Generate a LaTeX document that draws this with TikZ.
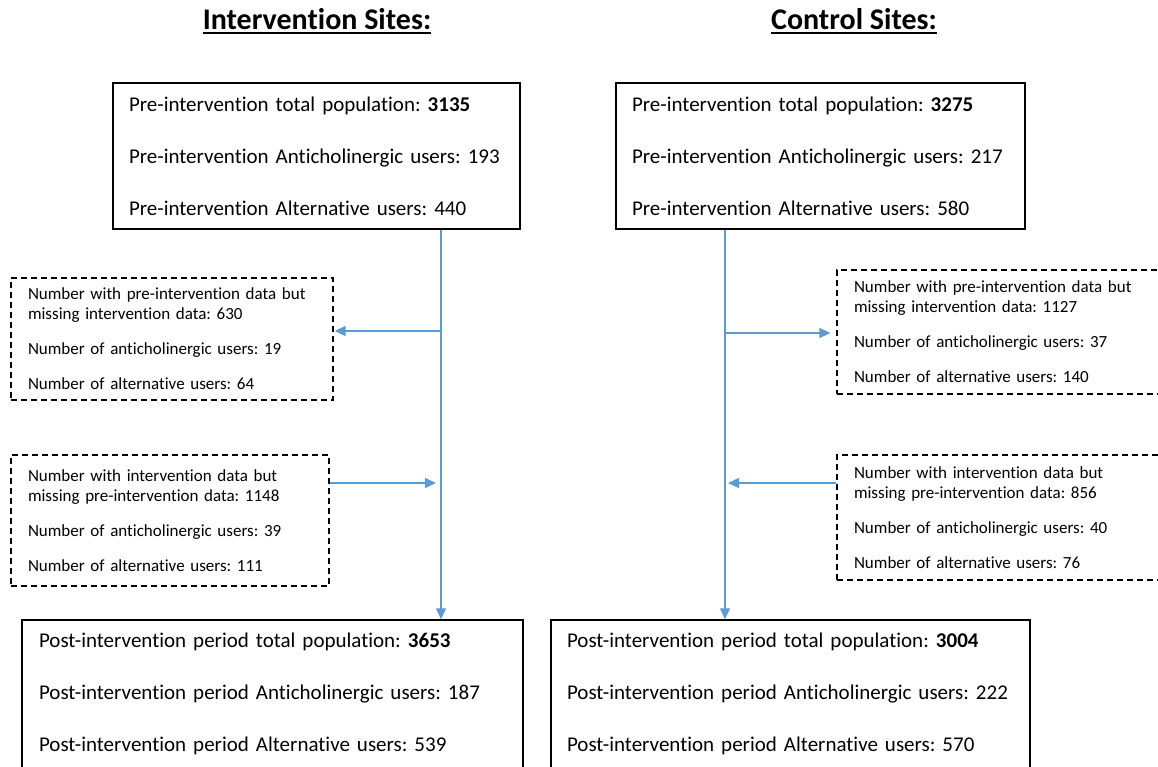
\documentclass[tikz,border=0pt]{standalone}
\usepackage{fontspec}
\setmainfont{Carlito}[Ligatures=NoCommon]
\usetikzlibrary{arrows.meta,positioning,calc}
\definecolor{flowblue}{RGB}{91,155,213}
\frenchspacing

\begin{document}
\begin{tikzpicture}[
    x=1pt, y=-1pt,
    heading/.style={inner sep=0pt, font=\fontsize{30}{36}\selectfont\bfseries},
    countbox/.style={rectangle, draw=black, line width=1.5pt, align=left, inner xsep=16pt, inner ysep=2pt, font=\fontsize{21}{26}\selectfont},
    lossbox/.style={rectangle, draw=black, line width=1.3pt, dash pattern=on 6pt off 4pt, align=left, inner xsep=17pt, inner ysep=2pt, font=\fontsize{17}{20}\selectfont},
    flow/.style={draw=flowblue, line width=1.5pt, -{Triangle[length=11pt,width=10pt]}},
    underbar/.style={line width=2.5pt}
]
\useasboundingbox (0,0) rectangle (1158,766);

% Headings
\node[heading, anchor=base] (headI) at (317,29) {Intervention Sites:};
\node[heading, anchor=base] (headC) at (854,29) {Control Sites:};
\draw[underbar] ([yshift=-4pt]headI.base west) -- ([yshift=-4pt]headI.base east);
\draw[underbar] ([yshift=-4pt]headC.base west) -- ([yshift=-4pt]headC.base east);

% Pre-intervention boxes
\node[countbox, minimum width=407pt, minimum height=146pt, text width=375pt] (preI) at (316.5,156)
  {Pre-intervention total population: \textbf{3135}\\[26pt]
   Pre-intervention Anticholinergic users: 193\\[26pt]
   Pre-intervention Alternative users: 440};
\node[countbox, minimum width=409pt, minimum height=146pt, text width=377pt] (preC) at (820.5,156)
  {Pre-intervention total population: \textbf{3275}\\[26pt]
   Pre-intervention Anticholinergic users: 217\\[26pt]
   Pre-intervention Alternative users: 580};

% Post-intervention boxes
\node[countbox, minimum width=501pt, minimum height=148pt, text width=467pt] (postI) at (272.5,694)
  {Post-intervention period total population: \textbf{3653}\\[26pt]
   Post-intervention period Anticholinergic users: 187\\[26pt]
   Post-intervention period Alternative users: 539};
\node[countbox, minimum width=479pt, minimum height=148pt, text width=447pt] (postC) at (790.5,694)
  {Post-intervention period total population: \textbf{3004}\\[26pt]
   Post-intervention period Anticholinergic users: 222\\[26pt]
   Post-intervention period Alternative users: 570};

% Missing data boxes
\node[lossbox, minimum width=322pt, minimum height=122pt, text width=288pt] (lossI) at (172,339)
  {Number with pre-intervention data but\\
   missing intervention data: 630\\[15pt]
   Number of anticholinergic users: 19\\[15pt]
   Number of alternative users: 64};
\node[lossbox, minimum width=318pt, minimum height=131pt, text width=284pt] (gainI) at (170,520.5)
  {Number with intervention data but\\
   missing pre-intervention data: 1148\\[15pt]
   Number of anticholinergic users: 39\\[15pt]
   Number of alternative users: 111};
\node[lossbox, minimum width=333pt, minimum height=124pt, text width=299pt] (lossC) at (1003.5,332)
  {Number with pre-intervention data but\\
   missing intervention data: 1127\\[15pt]
   Number of anticholinergic users: 37\\[15pt]
   Number of alternative users: 140};
\node[lossbox, minimum width=333pt, minimum height=125pt, text width=299pt] (gainC) at (1003.5,517.5)
  {Number with intervention data but\\
   missing pre-intervention data: 856\\[15pt]
   Number of anticholinergic users: 40\\[15pt]
   Number of alternative users: 76};

% Flow lines
\coordinate (splitI) at (441,0);
\coordinate (splitC) at (725,0);
\draw[flow] (preI.south -| splitI) -- (postI.north -| splitI);
\draw[flow] (preC.south -| splitC) -- (postC.north -| splitC);

\draw[flow, shorten >=1pt] ([yshift=8pt]lossI.east -| splitI) -- ([yshift=8pt]lossI.east);
\draw[flow, shorten >=5pt] ([yshift=37.5pt]gainI.east) -- ([yshift=37.5pt]gainI.east -| splitI);
\draw[flow, shorten >=6pt] ([yshift=-1pt]lossC.west -| splitC) -- ([yshift=-1pt]lossC.west);
\draw[flow, shorten >=3pt] ([yshift=34.5pt]gainC.west) -- ([yshift=34.5pt]gainC.west -| splitC);

\end{tikzpicture}
\end{document}
